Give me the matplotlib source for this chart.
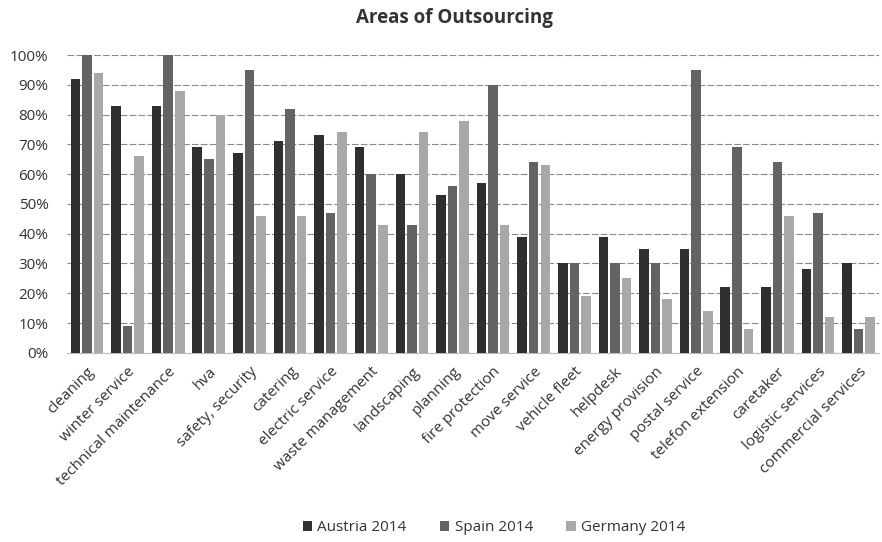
import matplotlib.pyplot as plt
import numpy as np
from matplotlib.ticker import PercentFormatter

plt.rcParams['font.family'] = ['Open Sans', 'DejaVu Sans']

categories = ['cleaning', 'winter service', 'technical maintenance', 'hva', 'safety, security',
              'catering', 'electric service', 'waste management', 'landscaping', 'planning',
              'fire protection', 'move service', 'vehicle fleet', 'helpdesk', 'energy provision',
              'postal service', 'telefon extension', 'caretaker', 'logistic services',
              'commercial services']

austria = [92, 83, 83, 69, 67, 71, 73, 69, 60, 53, 57, 39, 30, 39, 35, 35, 22, 22, 28, 30]
spain = [100, 9, 100, 65, 95, 82, 47, 60, 43, 56, 90, 64, 30, 30, 30, 95, 69, 64, 47, 8]
germany = [94, 66, 88, 80, 46, 46, 74, 43, 74, 78, 43, 63, 19, 25, 18, 14, 8, 46, 12, 12]

series = [('Austria 2014', austria, '#2f2f2f'),
          ('Spain 2014', spain, '#636363'),
          ('Germany 2014', germany, '#a8a8a8')]

fig = plt.figure(figsize=(8.82, 5.42), dpi=100)
ax = fig.add_axes([0.0756, 0.349, 0.9209, 0.5495])

x = np.arange(len(categories))
offset = 0.285
width = 0.235
for i, (name, vals, color) in enumerate(series):
    ax.bar(x + (i - 1) * offset, vals, width, color=color, label=name, zorder=3)

ax.set_xlim(-0.5, len(categories) - 0.5)
ax.set_ylim(0, 100)
ax.set_yticks(np.arange(0, 101, 10))
ax.yaxis.set_major_formatter(PercentFormatter(decimals=0))
ax.grid(axis='y', color='#8a8a8a', linewidth=0.8, linestyle=(0, (6, 2)), zorder=0)

for side in ['left', 'right', 'top']:
    ax.spines[side].set_visible(False)
ax.spines['bottom'].set_color('#bbbbbb')

ax.tick_params(axis='both', length=0, labelsize=11, colors='#333333')
ax.tick_params(axis='y', pad=13)
ax.tick_params(axis='x', pad=8)
ax.set_xticks(x)
ax.set_xticklabels(categories, rotation=45, ha='right', rotation_mode='anchor')

fig.suptitle('Areas of Outsourcing', x=0.515, y=0.985, fontsize=13.5, fontweight='bold',
             color='#333333')

ax.legend(loc='center', bbox_to_anchor=(0.56, 0.026), bbox_transform=fig.transFigure,
          ncol=3, frameon=False, fontsize=11, handlelength=0.6, handleheight=0.6,
          handletextpad=0.35, columnspacing=2.2, labelcolor='#333333')

fig.savefig('out.png', dpi=100)
